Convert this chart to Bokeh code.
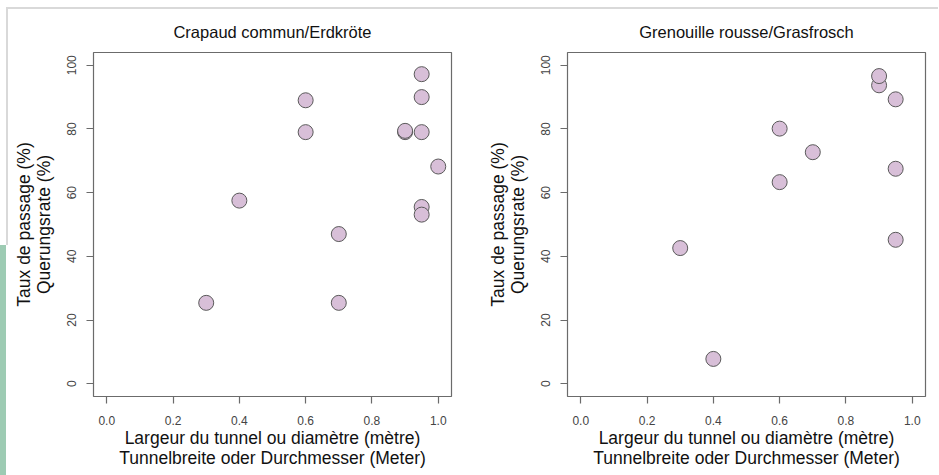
from bokeh.plotting import figure
from bokeh.layouts import row
from bokeh.models import FixedTicker, PrintfTickFormatter, Range1d, ColumnDataSource
from bokeh.embed import file_html
from bokeh.resources import INLINE

# Crapaud commun / Erdkröte
toad_width = [0.3, 0.4, 0.6, 0.6, 0.7, 0.7, 0.9, 0.9, 0.95, 0.95, 0.95, 0.95, 0.95, 1.0]
toad_rate = [25.4, 57.5, 89.0, 79.0, 47.0, 25.4, 79.0, 79.4, 97.2, 90.0, 79.0, 55.5, 53.1, 68.2]

# Grenouille rousse / Grasfrosch
frog_width = [0.3, 0.4, 0.6, 0.6, 0.7, 0.9, 0.9, 0.95, 0.95, 0.95]
frog_rate = [42.6, 7.8, 80.1, 63.3, 72.7, 93.7, 96.6, 89.3, 67.5, 45.2]

x_ticks = [0.0, 0.2, 0.4, 0.6, 0.8, 1.0]
y_ticks = [0, 20, 40, 60, 80, 100]

titles = ["Crapaud commun/Erdkröte", "Grenouille rousse/Grasfrosch"]
x_label = "Largeur du tunnel ou diamètre (mètre)\nTunnelbreite oder Durchmesser (Meter)"
y_label = "Taux de passage (%)\nQuerungsrate (%)"

FONT = "Liberation Sans"
H = 475


def make_panel(title, xs, ys, width, mbl, mbr):
    p = figure(width=width, height=H, output_backend="svg", toolbar_location=None,
               x_range=Range1d(-0.04, 1.04), y_range=Range1d(-4, 104),
               min_border_left=mbl, min_border_right=mbr,
               min_border_top=52, min_border_bottom=H - 396, title=title)
    p.title.align = "center"
    p.title.text_font = FONT
    p.title.text_font_size = "16.5px"
    p.title.text_font_style = "normal"
    p.title.text_color = "#111111"
    p.title.standoff = 23
    p.xgrid.visible = False
    p.ygrid.visible = False
    p.outline_line_color = "#6b6b6b"
    p.outline_line_width = 1.2
    p.background_fill_color = "white"
    p.border_fill_color = None

    src = ColumnDataSource(dict(x=xs, y=ys))
    p.scatter("x", "y", source=src, size=15, fill_color="#d8bfd8",
              line_color="#5a5a5a", line_width=1)

    for ax in (p.xaxis[0], p.yaxis[0]):
        ax.axis_line_color = None
        ax.major_tick_line_color = "#6b6b6b"
        ax.major_tick_line_width = 1.2
        ax.major_tick_out = 7
        ax.major_tick_in = 0
        ax.minor_tick_line_color = None
        ax.major_label_text_font = FONT
        ax.major_label_text_font_size = "12px"
        ax.major_label_text_color = "#444444"
        ax.axis_label_text_font = FONT
        ax.axis_label_text_font_size = "17.5px"
        ax.axis_label_text_font_style = "normal"
        ax.axis_label_text_color = "#111111"
        ax.axis_label_text_line_height = 1.0

    p.xaxis[0].ticker = FixedTicker(ticks=x_ticks)
    p.xaxis[0].formatter = PrintfTickFormatter(format="%.1f")
    p.xaxis[0].axis_label = x_label
    p.xaxis[0].major_label_standoff = 12
    p.xaxis[0].axis_label_standoff = 0

    p.yaxis[0].ticker = FixedTicker(ticks=y_ticks)
    p.yaxis[0].axis_label = y_label
    p.yaxis[0].major_label_orientation = "vertical"
    p.yaxis[0].major_label_standoff = 10
    p.yaxis[0].axis_label_standoff = 11
    return p


p1 = make_panel(titles[0], toad_width, toad_rate, 469, 93, 18)
p2 = make_panel(titles[1], frog_width, frog_rate, 469, 98, 13)

bg = ("linear-gradient(#d9d9d9,#d9d9d9) 6px 7px / 933px 2px no-repeat, "
      "linear-gradient(#d9d9d9,#d9d9d9) 6px 7px / 2px 238px no-repeat, "
      "linear-gradient(#9dcbb3,#9dcbb3) 0px 245px / 6px 230px no-repeat, white")
layout = row(p1, p2, styles={"background": bg})
open("out.html", "w").write(file_html(layout, INLINE))
